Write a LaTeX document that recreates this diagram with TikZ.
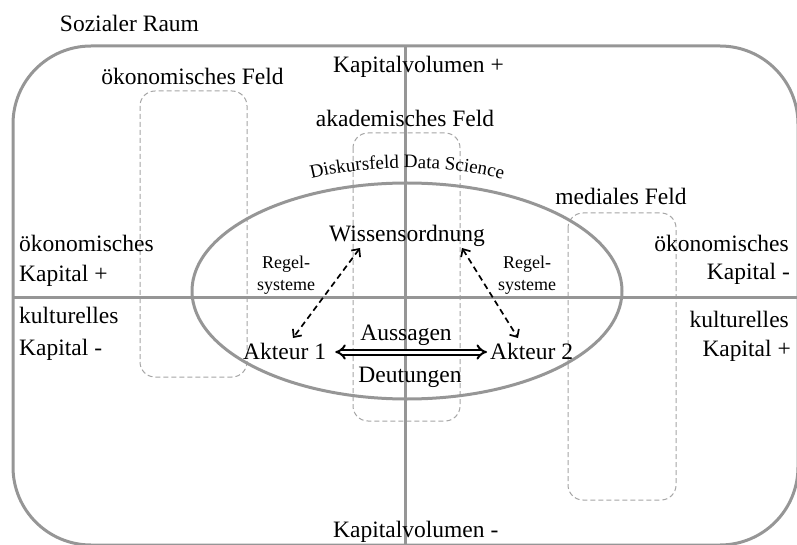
\documentclass[tikz,border=0pt]{standalone}
\usepackage{fontspec}
\setmainfont{Liberation Serif}
\usetikzlibrary{arrows.meta,decorations.text}
\definecolor{axisgray}{RGB}{150,150,150}
\definecolor{boxgray}{RGB}{165,165,165}
\begin{document}
\begin{tikzpicture}[x=1pt,y=1pt,
  lbl/.style={inner sep=0pt, font=\fontsize{23.5}{28}\selectfont},
  sml/.style={inner sep=0pt, font=\fontsize{18}{21}\selectfont},
  axis/.style={draw=axisgray, line width=3pt},
  fieldbox/.style={draw=boxgray, line width=1pt, dash pattern=on 5pt off 3pt, rounded corners=15pt},
  rulearrow/.style={dash pattern=on 6pt off 4pt, line width=1.7pt, {Straight Barb[length=6pt,width=11pt]}-{Straight Barb[length=6pt,width=11pt]}},
  talk/.style={double, double distance=3pt, line width=2pt, {Implies[length=7pt]}-{Implies[length=7pt]}}]
\useasboundingbox (0,0) rectangle (797,544);

% field boxes
\draw[fieldbox] (140,453) rectangle (247,167);
\draw[fieldbox] (353,411) rectangle (460,123);
\draw[fieldbox] (568,331) rectangle (676,44);

% social space
\draw[axis, rounded corners=78pt] (13,-1) rectangle (798,498);
\draw[axis] (405,498) -- (405,-1);
\draw[axis] (13,247) -- (798,247);

% discourse field
\draw[axis] (407,253) ellipse [x radius=215, y radius=108];
\path[decorate, decoration={text along path, text align=center,
   text={|\fontsize{19}{21}\selectfont|Diskursfeld Data Science}}]
   (175,253) arc[start angle=180, end angle=0, x radius=232, y radius=123];

% labels
\node[lbl, anchor=base] (soz) at (129.5,512) {Sozialer Raum};
\node[lbl, anchor=base] (oekF) at (192.5,459) {ökonomisches Feld};
\node[lbl, anchor=base west] (kvp) at (333,471) {Kapitalvolumen +};
\node[lbl, anchor=base] (akF) at (405,417) {akademisches Feld};
\node[lbl, anchor=base] (medF) at (621,339) {mediales Feld};
\node[lbl, anchor=base west] (kvm) at (333,7) {Kapitalvolumen -};

\node[lbl, anchor=base west] (l1) at (19,292) {ökonomisches};
\node[lbl, anchor=base west] (l2) at (19,262) {Kapital +};
\node[lbl, anchor=base west] (l3) at (19,221) {kulturelles};
\node[lbl, anchor=base west] (l4) at (19,189) {Kapital -};

\node[lbl, anchor=base east] (r1) at (789,292) {ökonomisches};
\node[lbl, anchor=base east] (r2) at (790,264) {Kapital -};
\node[lbl, anchor=base east] (r3) at (789,217) {kulturelles};
\node[lbl, anchor=base east] (r4) at (791,188) {Kapital +};

\node[lbl, anchor=base] (wiss) at (407,302) {Wissensordnung};
\node[sml, anchor=base] (rl1) at (286,276) {Regel-};
\node[sml, anchor=base] (rl2) at (286,254) {systeme};
\node[sml, anchor=base] (rr1) at (527,276) {Regel-};
\node[sml, anchor=base] (rr2) at (527,254) {systeme};

\node[lbl, anchor=base] (auss) at (406,204) {Aussagen};
\node[lbl, anchor=base] (deut) at (410,162) {Deutungen};
\node[lbl, anchor=base west] (akt1) at (243,185) {Akteur 1};
\node[lbl, anchor=base west] (akt2) at (490,185) {Akteur 2};

% connectors
\coordinate (wl) at (360,296);
\coordinate (wr) at (462,296);
\coordinate (al) at (293,206);
\coordinate (ar) at (518,206);
\draw[rulearrow] (wl) -- (al);
\draw[rulearrow] (wr) -- (ar);
\draw[talk] ([xshift=9pt,yshift=7pt]akt1.base east) -- ([xshift=-3pt,yshift=7pt]akt2.base west);
\end{tikzpicture}
\end{document}
